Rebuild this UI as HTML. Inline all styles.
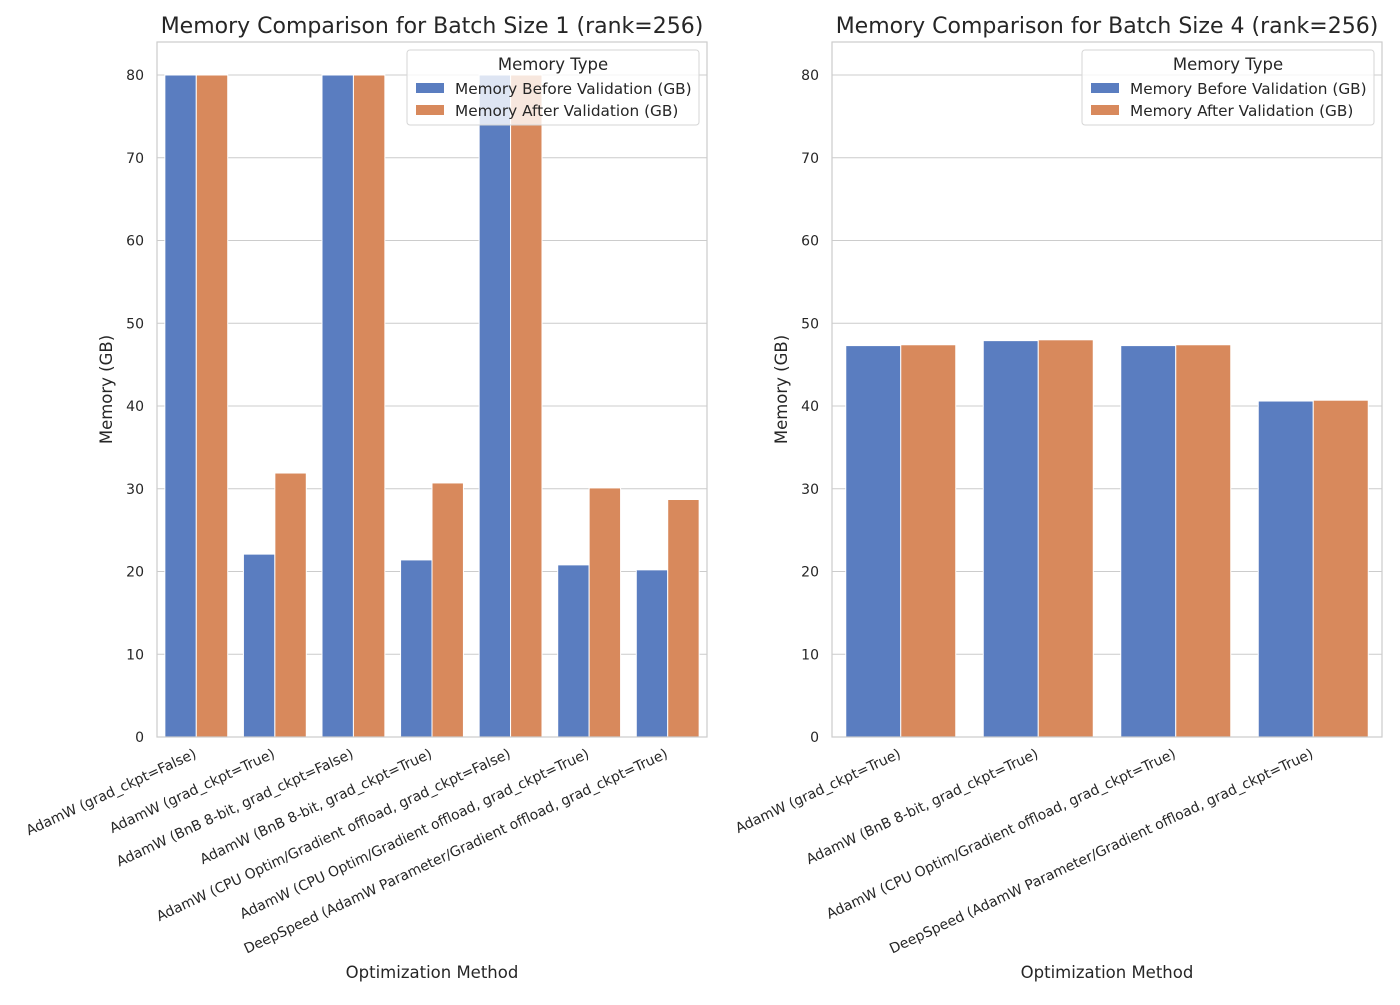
<!DOCTYPE html>
<html><head><meta charset="utf-8"><style>
body{margin:0;background:#fff;}
svg text{font-family:"DejaVu Sans","Liberation Sans",sans-serif;fill:#262626;}
</style></head><body>
<svg id="chart" width="1400" height="1000" xmlns="http://www.w3.org/2000/svg"></svg>
<script>
const leftCategories=["AdamW (grad_ckpt=False)","AdamW (grad_ckpt=True)","AdamW (BnB 8-bit, grad_ckpt=False)","AdamW (BnB 8-bit, grad_ckpt=True)","AdamW (CPU Optim/Gradient offload, grad_ckpt=False)","AdamW (CPU Optim/Gradient offload, grad_ckpt=True)","DeepSpeed (AdamW Parameter/Gradient offload, grad_ckpt=True)"];
const leftBefore=[80,22.1,80,21.4,80,20.8,20.2];
const leftAfter=[80,31.9,80,30.7,80,30.1,28.7];
const rightCategories=["AdamW (grad_ckpt=True)","AdamW (BnB 8-bit, grad_ckpt=True)","AdamW (CPU Optim/Gradient offload, grad_ckpt=True)","DeepSpeed (AdamW Parameter/Gradient offload, grad_ckpt=True)"];
const rightBefore=[47.3,47.9,47.3,40.6];
const rightAfter=[47.4,48.0,47.4,40.7];
const yTicks=[0,10,20,30,40,50,60,70,80];
const seriesNames=["Memory Before Validation (GB)","Memory After Validation (GB)"];
const colors=["#5a7dc0","#d8895c"];

const svg=document.getElementById('chart');
const NS='http://www.w3.org/2000/svg';
function mk(tag,attrs,parent){const e=document.createElementNS(NS,tag);for(const k in attrs)e.setAttribute(k,attrs[k]);(parent||svg).appendChild(e);return e;}

function panel(x0,x1,title,cats,before,after,key){
  const top=42,bottom=737,yPix=662/80;
  const y=v=>bottom-v*yPix;
  const g=mk('g',{});
  
  
  yTicks.forEach(t=>{
    const l=mk('line',{x1:x0,x2:x1,y1:y(t),y2:y(t),stroke:'#cccccc','stroke-width':1},g);
    
    
    const tx=mk('text',{x:x0-13,y:y(t)+5,'text-anchor':'end','font-size':14},g);
    tx.textContent=t;
    
    
  });
  const band=(x1-x0)/cats.length, bw=band*0.4;
  const xc=i=>x0+band*(i+0.5);
  cats.forEach((c,i)=>{
    [before,after].forEach((arr,s)=>{
      const r=mk('rect',{x:xc(i)-bw+s*bw,y:y(arr[i]),width:bw,height:bottom-y(arr[i]),fill:colors[s],stroke:'#fff','stroke-width':1},g);
      
      
    });
    const tx=mk('text',{x:0,y:0,'text-anchor':'end','font-size':14,transform:`translate(${xc(i)+1},${bottom+20}) rotate(-25)`},g);
    tx.textContent=c;
    
    
  });
  const fr=mk('rect',{x:x0,y:top,width:x1-x0,height:bottom-top,fill:'none',stroke:'#cccccc','stroke-width':1.2},g);
  
  
  const t=mk('text',{x:(x0+x1)/2,y:33,'text-anchor':'middle','font-size':22},g);
  t.textContent=title;
  
  
  const xl=mk('text',{x:(x0+x1)/2,y:978,'text-anchor':'middle','font-size':16.5},g);
  xl.textContent='Optimization Method';
  
  
  const yl=mk('text',{x:0,y:0,'text-anchor':'middle','font-size':16.5,transform:`translate(${x0-45},${(top+bottom)/2}) rotate(-90)`},g);
  yl.textContent='Memory (GB)';
  
  
  const lx=x1-300,ly=50;
  const lg=mk('g',{},g);
  
  
  mk('rect',{x:lx,y:ly,width:292,height:75,rx:3,fill:'#fff','fill-opacity':0.8,stroke:'#d6d6d6'},lg);
  const lt=mk('text',{x:lx+146,y:ly+20,'text-anchor':'middle','font-size':16.5},lg);
  lt.textContent='Memory Type';
  seriesNames.forEach((n,s)=>{
    const e=mk('g',{},lg);
    
    
    mk('rect',{x:lx+9,y:ly+33+s*22,width:28,height:10,fill:colors[s]},e);
    const et=mk('text',{x:lx+48,y:ly+44+s*22,'font-size':15.3},e);
    et.textContent=n;
  });
}
panel(157,707,'Memory Comparison for Batch Size 1 (rank=256)',leftCategories,leftBefore,leftAfter,'batch1');
panel(832,1382,'Memory Comparison for Batch Size 4 (rank=256)',rightCategories,rightBefore,rightAfter,'batch4');
</script>
</body></html>
